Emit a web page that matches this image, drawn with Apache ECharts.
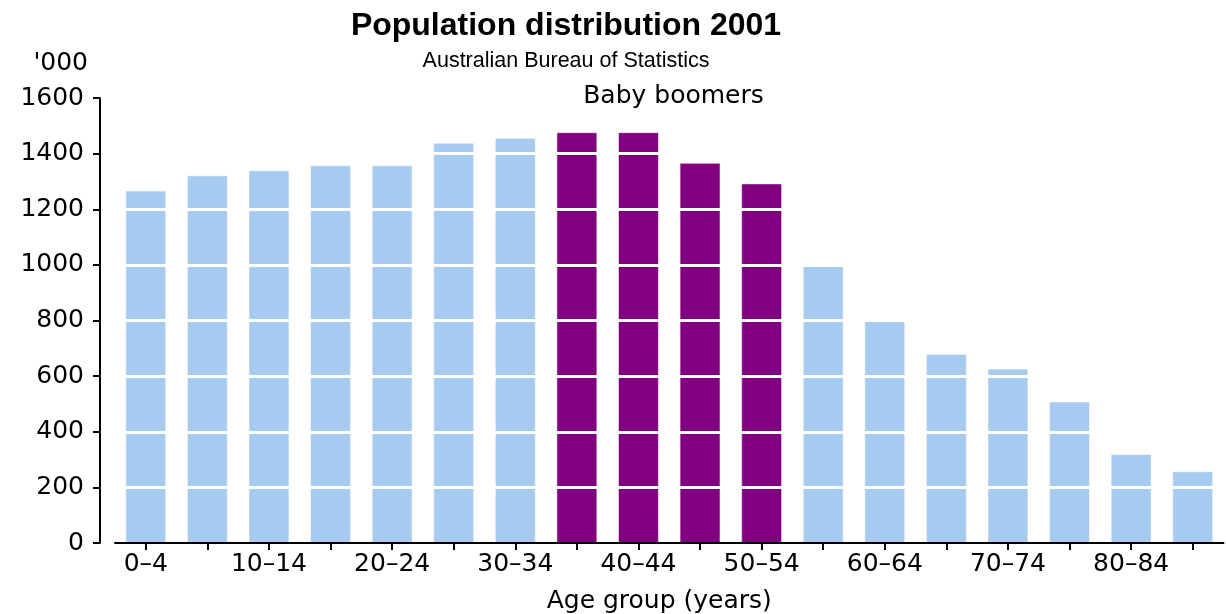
<!DOCTYPE html>
<html>
<head>
<meta charset="utf-8">
<title>Population distribution 2001</title>
<script src="https://cdn.jsdelivr.net/npm/echarts@6/dist/echarts.min.js"></script>
<style>
  html, body { margin: 0; padding: 0; background: #ffffff; }
  #chart { width: 1226px; height: 614px; }
</style>
</head>
<body>
<div id="chart"></div>
<script>
// Age groups (five-year bands)
var ageGroups = ['0–4', '5–9', '10–14', '15–19', '20–24', '25–29', '30–34', '35–39', '40–44',
  '45–49', '50–54', '55–59', '60–64', '65–69', '70–74', '75–79', '80–84', '85+'];
// Population in thousands
var population = [1267, 1322, 1340, 1358, 1358, 1439, 1457, 1477, 1477,
  1367, 1293, 1000, 800, 680, 627, 509, 320, 258];
// Bands counted as baby boomers
var boomerGroups = ['35–39', '40–44', '45–49', '50–54'];
// Y axis ticks
var yTicks = [0, 200, 400, 600, 800, 1000, 1200, 1400, 1600];

var BLUE = '#A6CAF0';
var PURPLE = '#800080';
var AXIS_FONT = 'DejaVu Sans';
var AXIS_SIZE = 25;

var barData = population.map(function (v, i) {
  return {
    value: v,
    itemStyle: { color: boomerGroups.indexOf(ageGroups[i]) >= 0 ? PURPLE : BLUE }
  };
});

var chart = echarts.init(document.getElementById('chart'), null, { renderer: 'canvas' });

chart.setOption({
  animation: false,
  backgroundColor: '#ffffff',
  title: {
    text: 'Population distribution 2001',
    subtext: 'Australian Bureau of Statistics',
    left: 566,
    top: 10,
    textAlign: 'center',
    itemGap: 8,
    padding: 0,
    textStyle: { fontFamily: 'Liberation Sans', fontWeight: 'bold', fontSize: 32, color: '#000000' },
    subtextStyle: { fontFamily: 'Liberation Sans', fontSize: 21.5, color: '#000000' }
  },
  graphic: [{
    type: 'text',
    x: 673.5,
    y: 96,
    z: 20,
    style: {
      text: 'Baby boomers',
      align: 'center',
      verticalAlign: 'middle',
      fontFamily: AXIS_FONT,
      fontSize: AXIS_SIZE,
      fill: '#000000'
    }
  }],
  grid: { left: 115, right: 2.5, top: 98, bottom: 71, containLabel: false, outerBoundsMode: 'none' },
  xAxis: {
    type: 'category',
    data: ageGroups,
    boundaryGap: true,
    z: 6,
    name: 'Age group (years)',
    nameLocation: 'middle',
    nameGap: 46,
    nameTextStyle: { fontFamily: AXIS_FONT, fontSize: AXIS_SIZE, color: '#000000', padding: [0, 20, 0, 0] },
    axisLine: { show: true, lineStyle: { color: '#000000', width: 2 } },
    axisTick: { show: true, alignWithLabel: true, interval: 0, length: 7, lineStyle: { color: '#000000', width: 2 } },
    axisLabel: { interval: 1, margin: 9, fontFamily: AXIS_FONT, fontSize: AXIS_SIZE, color: '#000000' },
    splitLine: { show: false }
  },
  yAxis: {
    type: 'value',
    min: 0,
    max: 1600,
    interval: 200,
    offset: 15,
    z: 5,
    name: "'000",
    nameLocation: 'end',
    nameGap: 35,
    nameTextStyle: { fontFamily: AXIS_FONT, fontSize: AXIS_SIZE, color: '#000000', align: 'right', verticalAlign: 'middle', padding: [0, 12, 0, 0] },
    axisLine: { show: true, lineStyle: { color: '#000000', width: 2 } },
    axisTick: { show: true, inside: false, length: 7, lineStyle: { color: '#000000', width: 2 } },
    axisLabel: {
      margin: 16,
      fontFamily: AXIS_FONT,
      fontSize: AXIS_SIZE,
      color: '#000000',
      padding: [0, 0, 5, 0],
      formatter: function (v) { return yTicks.indexOf(v) >= 0 ? String(v) : ''; }
    },
    splitLine: { show: true, lineStyle: { color: '#ffffff', width: 3 } }
  },
  series: [{
    type: 'bar',
    data: barData,
    barWidth: '66.5%',
    z: 2,
    itemStyle: { borderColor: 'rgba(255,255,255,0.55)', borderWidth: 1 }
  }]
});
</script>
</body>
</html>
